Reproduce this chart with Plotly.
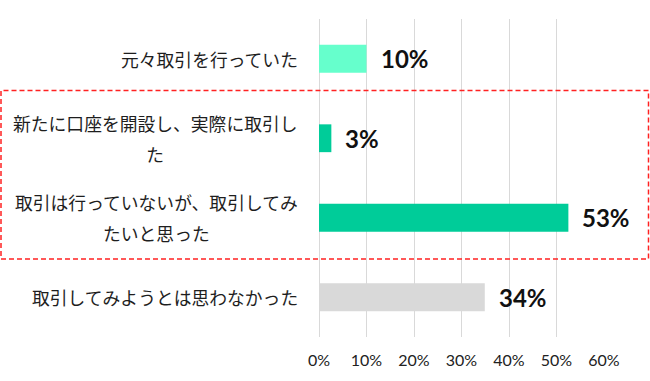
import plotly.graph_objects as go

# ---- data ----
categories = [
    "元々取引を行っていた",
    "新たに口座を開設し、実際に取引し<br>た",
    "取引は行っていないが、取引してみ<br>たいと思った",
    "取引してみようとは思わなかった",
]
values = [10.0, 2.6, 52.5, 34.9]
value_labels = ["10%", "3%", "53%", "34%"]
bar_colors = ["#66FFCC", "#00CC99", "#00CC99", "#D9D9D9"]
tick_vals = [0, 10, 20, 30, 40, 50, 60]
tick_labels = ["0%", "10%", "20%", "30%", "40%", "50%", "60%"]

W, H = 650, 381
ML, MT = 319, 19
PW, PH = 285, 318
MR, MB = W - ML - PW, H - MT - PH

JP_FONT = "Noto Sans CJK JP"
NUM_FONT = "Lato"

fig = go.Figure()
fig.add_trace(go.Bar(
    x=values,
    y=categories,
    orientation="h",
    marker=dict(color=bar_colors, line=dict(width=0)),
    hoverinfo="skip",
))

annotations = []
# category labels (centered multi-line, right-anchored)
for cat in categories:
    lines = cat.split("<br>")
    txt = "<br>".join(f"<span style='font-size:17.8px'>{ln}</span>" for ln in lines)
    annotations.append(dict(
        x=0, xref="paper", y=cat, yref="y",
        xanchor="right", yanchor="middle", xshift=-19,
        text=txt, showarrow=False, align="center",
        font=dict(family=JP_FONT, size=24, color="#1E1E1E"),
    ))
# value labels
for cat, v, lab in zip(categories, values, value_labels):
    annotations.append(dict(
        x=v, xref="x", y=cat, yref="y",
        xanchor="left", yanchor="middle", xshift=12,
        text=f"<b>{lab}</b>", showarrow=False,
        font=dict(family=NUM_FONT, size=24, color="#111111"),
    ))

def px_x(p):
    return (p - ML) / PW

def px_y(p):
    return (MT + PH - p) / PH

fig.add_shape(
    type="rect", xref="paper", yref="paper",
    x0=px_x(1), x1=px_x(648.5), y0=px_y(259), y1=px_y(90.5),
    line=dict(color="#FF2222", width=1.5, dash="5px,3px"),
    fillcolor="rgba(0,0,0,0)", layer="above",
)

fig.update_layout(
    width=W, height=H,
    margin=dict(l=ML, r=MR, t=MT, b=MB, pad=0),
    paper_bgcolor="white", plot_bgcolor="white",
    bargap=0.65,
    showlegend=False,
    annotations=annotations,
    xaxis=dict(
        range=[0, 60], tickvals=tick_vals, ticktext=tick_labels,
        showgrid=True, gridcolor="#D9D9D9", gridwidth=1,
        zeroline=True, zerolinecolor="#D9D9D9", zerolinewidth=1,
        showline=False, ticks="", fixedrange=True,
        tickfont=dict(family=NUM_FONT, size=16, color="#222222"),
        ticklabelstandoff=12,
    ),
    yaxis=dict(
        autorange="reversed", showticklabels=False, showgrid=False,
        zeroline=False, showline=False, ticks="", fixedrange=True,
    ),
)

fig.write_html(
    "out.html",
    config={"displayModeBar": False},
    post_script="document.body.style.margin='0';document.body.style.overflow='hidden';",
)
